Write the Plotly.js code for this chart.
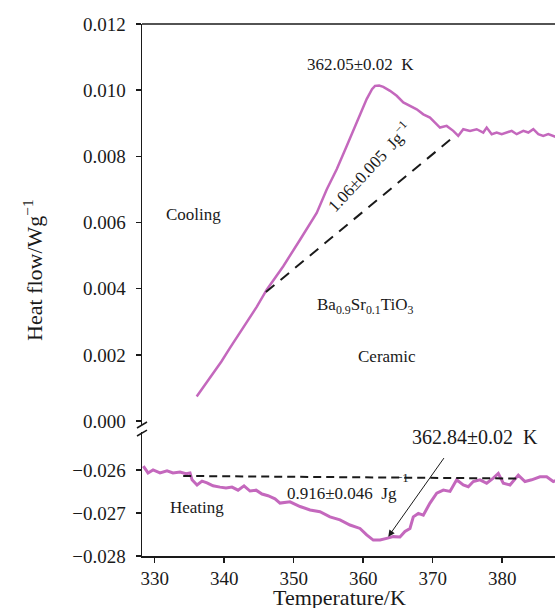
<!DOCTYPE html>
<html>
<head>
<meta charset="utf-8">
<script src="https://cdn.plot.ly/plotly-3.0.1.min.js"></script>
<style>
html,body{margin:0;padding:0;background:#fff;}
#chart{width:555px;height:608px;}
</style>
</head>
<body>
<div id="chart"></div>
<script>
// ---- Data ----
const coolT = [336.04,337.2,338.39,339.6,340.83,342.0,343.28,344.7,346.12,348.50,350.91,353.31,354.75,356.19,357.63,359.06,360.50,361.27,361.70,362.30,362.89,363.86,364.82,365.77,366.73,367.70,368.65,369.61,370.33,371.05,372.01,372.96,373.68,374.40,375.37,376.33,377.28,377.77,378.49,379.21,379.93,380.65,381.37,382.09,383.04,383.76,384.48,385.20,385.91,386.63,387.35,387.8];
const coolY = [0.00074,0.00108,0.00145,0.00180,0.00221,0.00258,0.00300,0.00346,0.00397,0.00468,0.00548,0.00629,0.00700,0.00761,0.00831,0.00902,0.00973,0.01003,0.01013,0.01014,0.01010,0.00998,0.00983,0.00963,0.00952,0.00942,0.00927,0.00917,0.00902,0.00887,0.00892,0.00877,0.00862,0.00882,0.00877,0.00882,0.00872,0.00887,0.00867,0.00872,0.00867,0.00872,0.00877,0.00867,0.00877,0.00872,0.00882,0.00867,0.00862,0.00867,0.00862,0.00858];

const heatT = [328.36,329.04,329.76,330.76,331.77,332.63,333.64,334.50,335.08,335.37,336.09,336.81,337.53,338.39,339.40,340.26,341.12,341.99,342.85,343.71,344.58,345.44,346.30,347.31,348.03,349.47,350.91,352.35,353.78,355.22,356.66,358.10,359.54,360.50,361.45,362.42,363.38,364.33,365.29,366.01,366.73,367.21,367.93,368.65,369.61,370.58,371.53,372.49,373.45,374.40,375.12,375.84,376.81,377.77,378.72,379.44,380.16,381.12,382.32,383.28,384.24,385.44,386.40,387.35,387.8];
const heatY = [-0.02591,-0.02607,-0.02600,-0.02607,-0.02602,-0.02607,-0.02605,-0.02609,-0.02607,-0.02623,-0.02635,-0.02626,-0.02630,-0.02637,-0.02640,-0.02642,-0.02640,-0.02647,-0.02637,-0.02649,-0.02647,-0.02656,-0.02660,-0.02667,-0.02677,-0.02674,-0.02685,-0.02693,-0.02697,-0.02709,-0.02716,-0.02728,-0.02736,-0.02751,-0.02763,-0.02763,-0.02759,-0.02755,-0.02756,-0.02743,-0.02736,-0.02709,-0.02701,-0.02705,-0.02677,-0.02654,-0.02647,-0.02650,-0.02623,-0.02635,-0.02639,-0.02627,-0.02623,-0.02631,-0.02619,-0.02608,-0.02631,-0.02635,-0.02612,-0.02627,-0.02623,-0.02616,-0.02616,-0.02627,-0.02624];

const coolBaseT = [346.0, 372.5];
const coolBaseY = [0.00390, 0.00850];
const heatBaseT = [334.1, 382.1];
const heatBaseY = [-0.02614, -0.02620];

const xTicks = [330,340,350,360,370,380];
const yTopTicks = [0.000,0.002,0.004,0.006,0.008,0.010,0.012];
const yBotTicks = [-0.028,-0.027,-0.026];

// ---- Styling ----
const FONT = '"Liberation Serif","Times New Roman",serif';
const LINE = '#c468bd';
const INK = '#1a1a1a';

const traces = [
  {x: coolT, y: coolY, xaxis:'x', yaxis:'y', mode:'lines', line:{color:LINE, width:2.5}, hoverinfo:'skip'},
  {x: coolBaseT, y: coolBaseY, xaxis:'x', yaxis:'y', mode:'lines', line:{color:INK, width:2, dash:'11px,8px'}, hoverinfo:'skip'},
  {x: heatT, y: heatY, xaxis:'x', yaxis:'y2', mode:'lines', line:{color:LINE, width:3}, hoverinfo:'skip'},
  {x: heatBaseT, y: heatBaseY, xaxis:'x', yaxis:'y2', mode:'lines', line:{color:INK, width:2, dash:'8px,5px'}, hoverinfo:'skip'}
];

const axisCommon = {
  showline:true, linecolor:INK, linewidth:1.5,
  ticks:'outside', ticklen:5, tickwidth:1.5, tickcolor:INK,
  showgrid:false, zeroline:false,
  tickfont:{family:FONT, size:19, color:INK}
};

const layout = {
  width:555, height:608,
  margin:{l:142, r:0, t:24, b:52},
  paper_bgcolor:'#fff', plot_bgcolor:'#fff',
  showlegend:false,
  font:{family:FONT, color:INK},
  xaxis: Object.assign({}, axisCommon, {
    range:[328.17, 387.6], anchor:'y2',
    tickvals:xTicks, ticktext:xTicks.map(String)
  }),
  yaxis: Object.assign({}, axisCommon, {
    domain:[0.2462, 1], range:[-0.00012, 0.012], anchor:'x',
    tickvals:yTopTicks, ticktext:yTopTicks.map(v=>v.toFixed(3)),
    ticklabelstandoff:6
  }),
  yaxis2: Object.assign({}, axisCommon, {
    domain:[0, 0.233], range:[-0.028, -0.02512], anchor:'x',
    tickvals:yBotTicks, ticktext:yBotTicks.map(v=>'\u2212'+Math.abs(v).toFixed(3)),
    ticklabelstandoff:6
  }),
  shapes:[
    {type:'line', xref:'paper', yref:'paper', x0:0, x1:1, y0:1, y1:1, line:{color:INK, width:1.5}},
    {type:'line', xref:'paper', yref:'paper', x0:-0.0121, x1:0.0121, y0:0.2406, y1:0.2519, line:{color:INK, width:1.5}},
    {type:'line', xref:'paper', yref:'paper', x0:-0.0121, x1:0.0121, y0:0.2256, y1:0.2368, line:{color:INK, width:1.5}}
  ],
  annotations:[
    {text:'362.05±0.02  K', xref:'x', yref:'y', x:359.54, y:0.01079, showarrow:false, font:{family:FONT, size:17, color:INK}},
    {text:'Cooling', xref:'x', yref:'y', x:335.6, y:0.00624, showarrow:false, font:{family:FONT, size:17, color:INK}},
    {text:'Ba<sub>0.9</sub>Sr<sub>0.1</sub>TiO<sub>3</sub>', xref:'x', yref:'y', x:360.4, y:0.00348, showarrow:false, font:{family:FONT, size:17, color:INK}},
    {text:'Ceramic', xref:'x', yref:'y', x:363.38, y:0.00194, showarrow:false, font:{family:FONT, size:17, color:INK}},
    {text:'1.06±0.005  Jg<sup>\u22121</sup>', xref:'x', yref:'y', x:360.9, y:0.0077, textangle:-47, showarrow:false, font:{family:FONT, size:17, color:INK}},
    {text:'0.916±0.046  Jg', xref:'x', yref:'y2', x:356.9, y:-0.02654, showarrow:false, font:{family:FONT, size:17, color:INK}},
    {text:'\u22121', xref:'x', yref:'y2', x:365.6, y:-0.02618, showarrow:false, font:{family:FONT, size:13, color:INK}},
    {text:'Heating', xref:'x', yref:'y2', x:336.04, y:-0.02688, showarrow:false, font:{family:FONT, size:17, color:INK}},
    {text:'362.84±0.02  K', xref:'x', yref:'y2', x:376.09, y:-0.02524, showarrow:false, font:{family:FONT, size:20, color:INK}},
    {text:'', xref:'x', yref:'y2', x:363.61, y:-0.02755, axref:'x', ayref:'y2', ax:371.77, ay:-0.02569,
      showarrow:true, arrowhead:2, arrowsize:1.3, arrowwidth:1, arrowcolor:INK},
    {text:'Heat flow/Wg<sup>\u22121</sup>', xref:'paper', yref:'paper', x:-0.264, y:0.5376, xanchor:'center', yanchor:'middle', textangle:-90, showarrow:false, font:{family:FONT, size:22, color:INK}},
    {text:'Temperature/K', xref:'paper', yref:'paper', x:0.479, y:-0.078, xanchor:'center', yanchor:'middle', showarrow:false, font:{family:FONT, size:22, color:INK}}
  ]
};

Plotly.newPlot('chart', traces, layout, {displayModeBar:false, staticPlot:true});
</script>
</body>
</html>
